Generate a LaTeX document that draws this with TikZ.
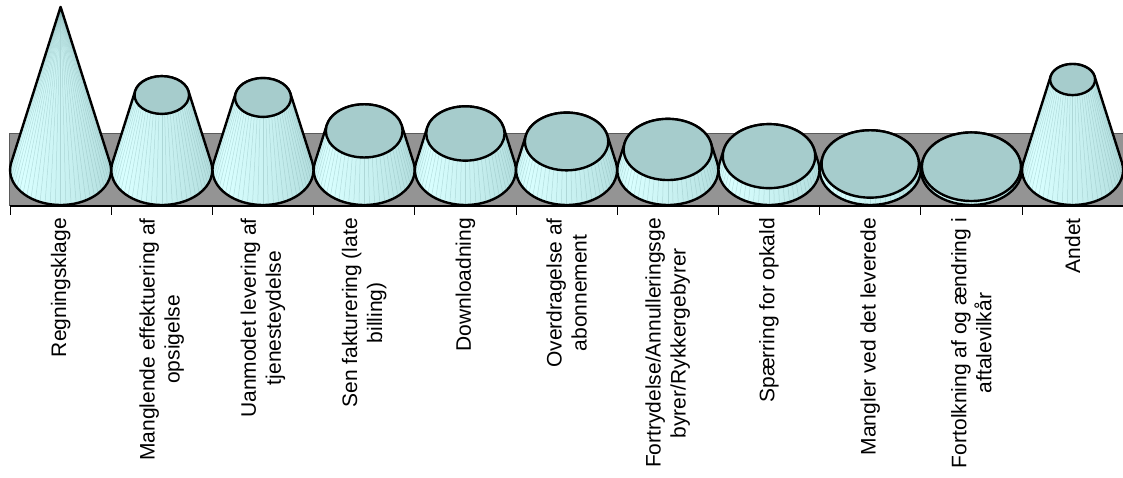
\documentclass[tikz,border=0pt]{standalone}
\usepackage{fontspec}
\setmainfont{Liberation Sans}
\definecolor{floorgray}{RGB}{148,148,148}
\definecolor{flooredge}{RGB}{90,90,90}
\definecolor{topc}{RGB}{166,204,204}
\definecolor{facetc}{RGB}{120,165,165}
\pgfdeclarehorizontalshading{conesh}{100bp}{rgb(0bp)=(0.64,0.82,0.82); rgb(12bp)=(0.74,0.91,0.91); rgb(33bp)=(0.85,1,1); rgb(55bp)=(0.78,0.94,0.94); rgb(80bp)=(0.68,0.85,0.85); rgb(100bp)=(0.52,0.70,0.70)}
\tikzset{
  conefill/.style={shading=conesh},
  coneline/.style={draw=black, line width=2.4pt, line join=round},
  facet/.style={draw=facetc, line width=0.5pt, opacity=0.35},
  conetop/.style={fill=topc, draw=black, line width=2.4pt},
  catlabel/.style={rotate=90, anchor=east, align=center, inner sep=0pt, font=\fontsize{21}{25}\selectfont},
  tick/.style={line width=1pt}
}
\begin{document}
\begin{tikzpicture}[x=1pt,y=1pt]
\useasboundingbox (0,0) rectangle (1123,477);
\clip (0,0) rectangle (1123,477);
% floor
\fill[floorgray] (9.5,344) rectangle (1125,271);
\draw[flooredge, line width=0.8pt] (9.5,271) -- (9.5,344) -- (1125,344);
\draw[line width=1.3pt] (9.5,271) -- (1125,271);
\foreach \k in {0,...,10}{
  \pgfmathsetmacro\tx{10+101.2*\k}
  \draw[tick] (\tx,271) -- (\tx,262);
}
% cones
\foreach \i/\f in {1/1,2/0.46,3/0.445,4/0.24,5/0.224,6/0.175,7/0.126,8/0.085,9/0.037,10/0.02,11/0.555}{
  \pgfmathsetmacro\cx{10+101.2*(\i-0.5)}
  \pgfmathsetmacro\s{max(1-\f,0.001)}
  \pgfmathsetmacro\ty{307+\f*163}
  \pgfmathsetmacro\rxT{\s*50.5}
  \pgfmathsetmacro\ryT{\s*35}
  \pgfmathsetmacro\bx{\cx+50.5*cos(167.6)}
  \pgfmathsetmacro\by{307+35*sin(167.6)}
  \pgfmathsetmacro\tpx{\cx+\rxT*cos(12.4)}
  \pgfmathsetmacro\tpy{\ty+\ryT*sin(12.4)}
  \def\sidepath{(\bx,\by) arc[start angle=167.6, end angle=372.4, x radius=50.5pt, y radius=35pt]
     -- (\tpx,\tpy) arc[start angle=12.4, end angle=167.6, x radius=\rxT pt, y radius=\ryT pt] -- cycle}
  \shade[conefill] \sidepath;
  \foreach \a in {186,192,...,354}{
    \draw[facet] ({\cx+50.5*cos(\a)},{307+35*sin(\a)}) -- ({\cx+\rxT*cos(\a)},{\ty+\ryT*sin(\a)});
  }
  \path[coneline] \sidepath;
  \ifdim\f pt<0.99pt
    \draw[conetop] (\cx,\ty) ellipse[x radius=\rxT pt, y radius=\ryT pt];
  \fi
}
% labels
\node[catlabel] (l1) at (60.6,259) {Regningsklage};
\node[catlabel] (l2) at (161.8,259) {Manglende effektuering af\\opsigelse};
\node[catlabel] (l3) at (263,259) {Uanmodet levering af\\tjenesteydelse};
\node[catlabel] (l4) at (364.2,259) {Sen fakturering (late\\billing)};
\node[catlabel] (l5) at (465.4,259) {Downloadning};
\node[catlabel] (l6) at (566.6,259) {Overdragelse af\\abonnement};
\node[catlabel] (l7) at (667.8,259) {Fortrydelse/Annulleringsge\\byrer/Rykkergebyrer};
\node[catlabel] (l8) at (769,259) {Spærring for opkald};
\node[catlabel] (l9) at (870.2,259) {Mangler ved det leverede};
\node[catlabel] (l10) at (971.4,259) {Fortolkning af og ændring i\\aftalevilkår};
\node[catlabel] (l11) at (1072.6,259) {Andet};
\end{tikzpicture}
\end{document}
